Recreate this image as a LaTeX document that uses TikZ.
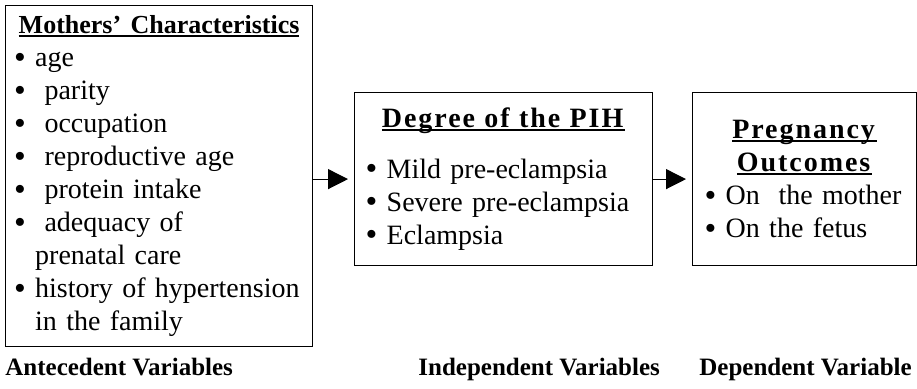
\documentclass[tikz,border=0pt]{standalone}
\usepackage{fontspec}
\setmainfont{Liberation Serif}
\newfontfamily\spacedfont[LetterSpace=7]{Liberation Serif}
\usetikzlibrary{arrows.meta}
\newsavebox{\titlebox}
\newcommand{\undl}[1]{\sbox{\titlebox}{#1}\rlap{\rule[-1.6pt]{\wd\titlebox}{0.8pt}}\usebox{\titlebox}}
\newcommand{\bigdot}{\smash{\raisebox{-0.05em}{\scalebox{1.2}{\textbullet}}}}
\newcommand{\bul}{\bigdot\ }
\newcommand{\hang}{\phantom{\bigdot}\ }
\begin{document}
\begin{tikzpicture}[x=0.5pt,y=-0.5pt,
    varbox/.style={draw,line width=0.6pt,anchor=north west,align=left,
        font=\fontsize{14}{16.5}\selectfont},
    flow/.style={line width=0.6pt,-{Triangle[length=10pt,width=10pt]},shorten >=3pt},
    varlabel/.style={anchor=base west,inner sep=0pt,font=\fontsize{12.5}{15}\selectfont\bfseries}]
        \useasboundingbox (0,0) rectangle (917,388);
        % the three boxes
        \node[varbox,minimum width=153.5pt,minimum height=170.5pt,text width=145pt,
            inner xsep=4pt,inner ysep=2pt]
            (mothers) at (5,5) {%
            \makebox[\linewidth]{\fontsize{13}{16.5}\selectfont\undl{\textbf{Mothers’ Characteristics}}}\\
            \bul age\\
            \bul\ parity\\
            \bul\ occupation\\
            \bul\ reproductive age\\
            \bul\ protein intake\\
            \bul\ adequacy of\\
            \hang prenatal care\\
            \bul history of hypertension\\
            \hang in the family};
        \node[varbox,minimum width=149pt,minimum height=86.5pt,text width=138pt,inner xsep=5.5pt]
            (pih) at (354,92) {%
            \makebox[\linewidth]{\spacedfont\undl{\textbf{Degree of the PIH}}}\\[9pt]
            \bul Mild pre-eclampsia\\
            \bul Severe pre-eclampsia\\
            \bul Eclampsia};
        \node[varbox,minimum width=112pt,minimum height=86.5pt,text width=100pt,inner xsep=6pt]
            (outcomes) at (692,92) {%
            \makebox[\linewidth]{\spacedfont\undl{\textbf{Pregnancy}}}\\
            \makebox[\linewidth]{\spacedfont\undl{\textbf{Outcomes}}}\\
            \bul On\ \ the mother\\
            \bul On the fetus\\[4pt]};
        % connectors
        \draw[flow] (pih.west -| mothers.east) -- (pih.west);
        \draw[flow] (pih.east) -- (outcomes.west);
        % variable names
        \node[varlabel] (antecedent) at (5,375) {Antecedent Variables};
        \node[varlabel] (independent) at (418,375) {Independent Variables};
        \node[varlabel] (dependent) at (699,375) {Dependent Variable};
\end{tikzpicture}
\end{document}
